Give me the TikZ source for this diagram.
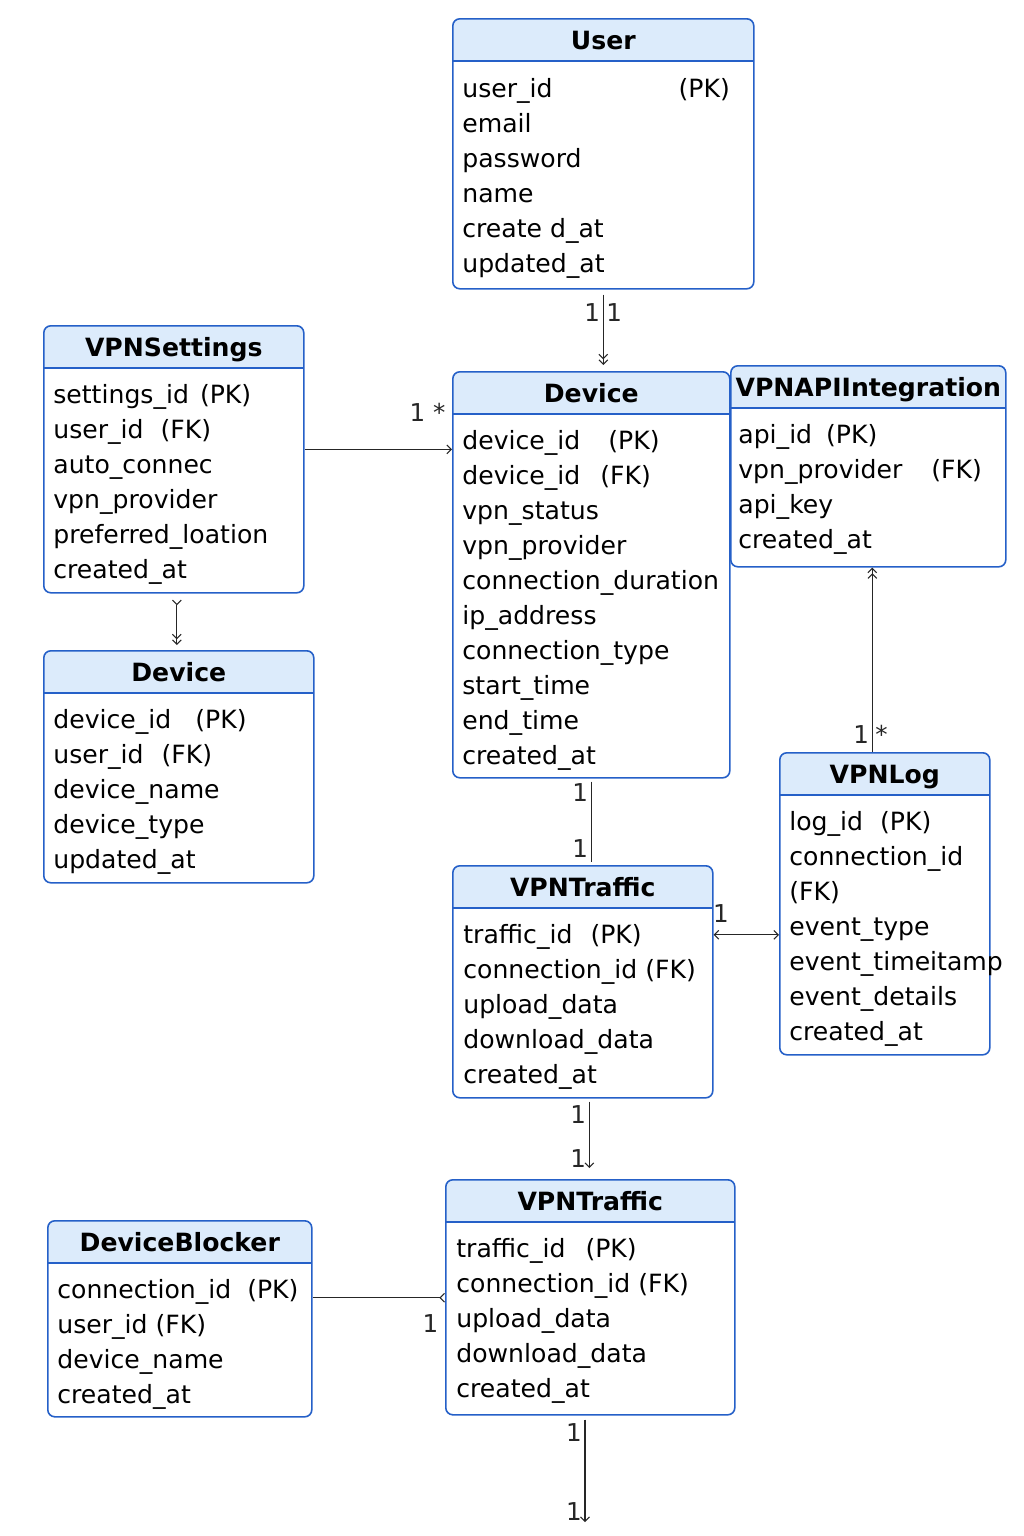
\documentclass[tikz,border=0pt]{standalone}
\usepackage{fontspec}
\setmainfont{DejaVu Sans}
\usetikzlibrary{positioning, arrows.meta, calc}

\definecolor{boxblue}{HTML}{2560C8}
\definecolor{hdrblue}{HTML}{DCEBFB}
\newcommand{\pxu}{0.02cm}

\tikzset{
  box/.style={draw=boxblue, line width=0.9pt, rounded corners=4pt, fill=white,
    anchor=north west, inner sep=0pt,
    path picture={
      \fill[hdrblue, sharp corners] (path picture bounding box.north west)
        rectangle ([yshift=-42*\pxu]path picture bounding box.north east);
      \draw[boxblue, line width=0.9pt, sharp corners]
        ([yshift=-42*\pxu]path picture bounding box.north west) --
        ([yshift=-42*\pxu]path picture bounding box.north east);
    }},
  title/.style={anchor=base, inner sep=0pt, font=\fontsize{14.3}{17}\selectfont\bfseries},
  attrs/.style={anchor=north west, align=left, inner sep=0pt,
    font=\fontsize{14.3}{19.9}\selectfont},
  conn/.style={line width=0.6pt, black!85},
  mult/.style={font=\fontsize{14}{16}\selectfont, inner sep=1.5pt}
}

\begin{document}
\begin{tikzpicture}[
    x=0.02cm, y=-0.02cm,
    >={Straight Barb[length=2.5pt, width=5pt]}
]

\useasboundingbox (0,0) rectangle (1024,1536);
\fill[white] (0,0) rectangle (1024,1536);

% User
\node[box, minimum width=301*\pxu, minimum height=270*\pxu] (user) at (452,18) {};
\node[title] (userT) at ($(user.north)+(0,31)$) {User};
\node[attrs] (userA) at ($(user.north west)+(10,55)$)
{\strut user\_id\hspace{2.52cm}(PK)\\
email\\
password\\
name\\
create d\_at\\
updated\_at};

% VPNSettings
\node[box, minimum width=260*\pxu, minimum height=267*\pxu] (settings) at (43,325) {};
\node[title] (settingsT) at ($(settings.north)+(0,31)$) {VPNSettings};
\node[attrs] (settingsA) at ($(settings.north west)+(10,54)$)
{\strut settings\_id\hspace{0.22cm}(PK)\\
user\_id\hspace{0.34cm}(FK)\\
auto\_connec\\
vpn\_provider\\
preferred\_loation\\
created\_at};

% Device (centre)
\node[box, minimum width=277*\pxu, minimum height=406*\pxu] (device) at (452,371) {};
\node[title] (deviceT) at ($(device.north)+(0,31)$) {Device};
\node[attrs] (deviceA) at ($(device.north west)+(10,54)$)
{\strut device\_id\hspace{0.56cm}(PK)\\
device\_id\hspace{0.4cm}(FK)\\
vpn\_status\\
vpn\_provider\\
connection\_duration\\
ip\_address\\
connection\_type\\
start\_time\\
end\_time\\
created\_at};

% VPNAPIIntegration
\node[box, minimum width=275*\pxu, minimum height=201*\pxu] (api) at (730,365) {};
\node[title] (apiT) at ($(api.north)+(0,31)$) {VPNAPIIntegration};
\node[attrs] (apiA) at ($(api.north west)+(8,54)$)
{\strut api\_id\hspace{0.28cm}(PK)\\
vpn\_provider\hspace{0.58cm}(FK)\\
api\_key\\
created\_at};

% Device (left)
\node[box, minimum width=270*\pxu, minimum height=232*\pxu] (devleft) at (43,650) {};
\node[title] (devleftT) at ($(devleft.north)+(0,31)$) {Device};
\node[attrs] (devleftA) at ($(devleft.north west)+(10,54)$)
{\strut device\_id\hspace{0.48cm}(PK)\\
user\_id\hspace{0.36cm}(FK)\\
device\_name\\
device\_type\\
updated\_at};

% VPNLog
\node[box, minimum width=210*\pxu, minimum height=302*\pxu] (vlog) at (779,752) {};
\node[title] (vlogT) at ($(vlog.north)+(0,31)$) {VPNLog};
\node[attrs] (vlogA) at ($(vlog.north west)+(10,54)$)
{\strut log\_id\hspace{0.34cm}(PK)\\
connection\_id\\
(FK)\\
event\_type\\
event\_timeitamp\\
event\_details\\
created\_at};

% VPNTraffic (upper)
\node[box, minimum width=260*\pxu, minimum height=232*\pxu] (traffic) at (452,865) {};
\node[title] (trafficT) at ($(traffic.north)+(0,31)$) {VPNTraffic};
\node[attrs] (trafficA) at ($(traffic.north west)+(11,54)$)
{\strut traffic\_id\hspace{0.36cm}(PK)\\
connection\_id (FK)\\
upload\_data\\
download\_data\\
created\_at};

% VPNTraffic (lower)
\node[box, minimum width=289*\pxu, minimum height=235*\pxu] (traffic2) at (445,1179) {};
\node[title] (traffic2T) at ($(traffic2.north)+(0,31)$) {VPNTraffic};
\node[attrs] (traffic2A) at ($(traffic2.north west)+(11,54)$)
{\strut traffic\_id\hspace{0.4cm}(PK)\\
connection\_id (FK)\\
upload\_data\\
download\_data\\
created\_at};

% DeviceBlocker
\node[box, minimum width=264*\pxu, minimum height=196*\pxu] (blocker) at (47,1220) {};
\node[title] (blockerT) at ($(blocker.north)+(0,31)$) {DeviceBlocker};
\node[attrs] (blockerA) at ($(blocker.north west)+(10,54)$)
{\strut connection\_id\hspace{0.32cm}(PK)\\
user\_id (FK)\\
device\_name\\
created\_at};

% connectors
\draw[conn, ->>] ($(user.south)+(0,5)$) -- ($(user.south |- device.north)+(0,-6)$)
    node[mult, pos=0.25, left] {1} node[mult, pos=0.25, right] {1};

\draw[conn, ->] ($(settings.east)+(0,-10)$) -- ($(settings.east -| device.west)+(0,-10)$)
    node[mult, pos=1, anchor=south east, xshift=-2pt, yshift=0.5cm] {1 *};

\draw[conn, >->>] ($(settings.south -| devleft.north)+(-2,6)$) -- ($(devleft.north)+(-2,-5)$);

\draw[conn, ->>] ($(vlog.north -| api.south)+(4,0)$) -- ($(api.south)+(4,0)$)
    node[mult, pos=0, above left, yshift=3pt] {1} node[mult, pos=0, above right, yshift=3pt] {*};

\draw[conn] ($(device.south)+(0,3)$) -- ($(device.south |- traffic.north)+(0,-3)$)
    node[mult, pos=0.13, left] {1} node[mult, pos=0.83, left] {1};

\draw[conn, <->] ($(traffic.east)+(0,-47)$) -- ($(traffic.east -| vlog.west)+(0,-47)$)
    node[mult, pos=0, above right, xshift=-2pt, yshift=5pt] {1};

\draw[conn, ->] ($(traffic2.north |- traffic.south)+(-1,3)$) -- ($(traffic2.north)+(-1,-11)$)
    node[mult, pos=0.2, left] {1} node[mult, pos=0.85, left] {1};

\draw[conn, -<] ($(blocker.east)+(0,-21)$) -- ($(blocker.east -| traffic2.west)+(0,-21)$)
    node[mult, pos=1, below left, xshift=-2pt, yshift=-8pt] {1};

\coordinate (sink) at (585,1522);
\draw[conn, ->] ($(traffic2.south -| sink)+(0,4)$) -- (sink)
    node[mult, pos=0.13, left] {1} node[mult, pos=0.9, left] {1};

\end{tikzpicture}
\end{document}
